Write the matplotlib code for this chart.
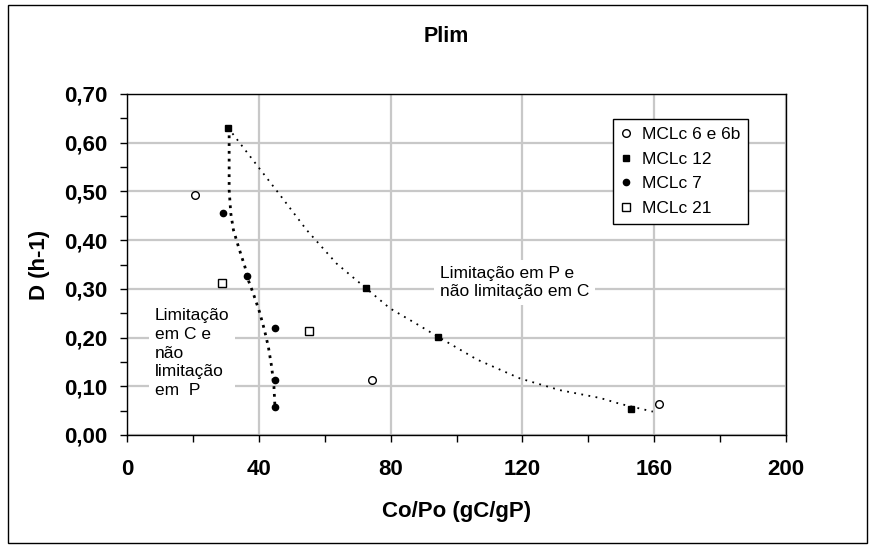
import matplotlib
matplotlib.use('Agg')
import matplotlib.pyplot as plt
from matplotlib.ticker import MultipleLocator, FuncFormatter
from matplotlib.patches import Rectangle

plt.rcParams['font.family'] = ['Liberation Sans', 'DejaVu Sans']

# data
mclc6_x = [20.6, 74.4, 161.5]
mclc6_y = [0.492, 0.113, 0.063]

mclc12_x = [30.8, 72.4, 94.3, 152.9]
mclc12_y = [0.631, 0.302, 0.202, 0.053]

mclc7_x = [29.2, 36.3, 44.9, 44.9, 44.9]
mclc7_y = [0.455, 0.327, 0.220, 0.113, 0.058]

mclc21_x = [28.9, 55.3]
mclc21_y = [0.313, 0.213]

# trend curves
trend_p_x = [32.0, 39.4, 46.4, 54.5, 63.6, 72.4, 79.8, 88.4, 94.3, 106.2,
             119.3, 131.4, 143.6, 149.6, 159.6]
trend_p_y = [0.619, 0.554, 0.493, 0.421, 0.352, 0.302, 0.260, 0.226, 0.202,
             0.155, 0.116, 0.092, 0.076, 0.064, 0.048]

trend_c_x = [31.0, 31.0, 31.0, 31.5, 32.3, 33.8, 35.8, 36.8, 38.3, 40.2,
             41.7, 42.9, 43.9, 44.6, 44.9]
trend_c_y = [0.631, 0.578, 0.503, 0.455, 0.421, 0.387, 0.345, 0.318, 0.291,
             0.253, 0.216, 0.181, 0.140, 0.099, 0.058]

W, H = 874, 548
fig = plt.figure(figsize=(W / 100, H / 100), dpi=100)
ax = fig.add_axes([127 / W, 1 - 435 / H, (786 - 127) / W, (435 - 94) / H])

# outer frame
fig.patches.append(Rectangle((8 / W, 5 / H), 859 / W, 538 / H,
                             transform=fig.transFigure, fill=False,
                             edgecolor='black', linewidth=1.0))

ax.set_xlim(0, 200)
ax.set_ylim(0, 0.70)
ax.xaxis.set_major_locator(MultipleLocator(40))
ax.xaxis.set_minor_locator(MultipleLocator(20))
ax.yaxis.set_major_locator(MultipleLocator(0.1))
ax.yaxis.set_minor_locator(MultipleLocator(0.05))
ax.yaxis.set_major_formatter(FuncFormatter(lambda v, p: f'{v:.2f}'.replace('.', ',')))
ax.grid(True, which='major', color='#c8c8c8', linewidth=1.6)
ax.set_axisbelow(True)
ax.tick_params(which='both', direction='out', length=5, width=1, color='black')
ax.tick_params(axis='y', which='major', pad=9, labelsize=16)
ax.tick_params(axis='x', which='major', pad=12, labelsize=16)
for lab in ax.get_xticklabels() + ax.get_yticklabels():
    lab.set_fontweight('bold')
for s in ax.spines.values():
    s.set_linewidth(1.0)
    s.set_color('black')

# trend curves
ax.plot(trend_p_x, trend_p_y, color='black', linestyle=(0, (1, 3)), linewidth=1.3)
ax.plot(trend_c_x, trend_c_y, color='black', linestyle=(0, (1, 1.8)), linewidth=2.0)

# series
ax.plot(mclc6_x, mclc6_y, linestyle='none', marker='o', markersize=5.5,
        markerfacecolor='white', markeredgecolor='black', markeredgewidth=1.0,
        label='MCLc 6 e 6b', zorder=4)
ax.plot(mclc12_x, mclc12_y, linestyle='none', marker='s', markersize=4.5,
        color='black', label='MCLc 12', zorder=4)
ax.plot(mclc7_x, mclc7_y, linestyle='none', marker='o', markersize=4.5,
        color='black', label='MCLc 7', zorder=4)
ax.plot(mclc21_x, mclc21_y, linestyle='none', marker='s', markersize=6,
        markerfacecolor='white', markeredgecolor='black', markeredgewidth=1.0,
        label='MCLc 21', zorder=4)

leg = ax.legend(loc='upper left', bbox_to_anchor=(613 / W, 1 - 119 / H),
                bbox_transform=fig.transFigure, fontsize=12.5, frameon=True,
                fancybox=False, edgecolor='black', framealpha=1,
                handlelength=0.6, handletextpad=0.6, labelspacing=0.55,
                borderpad=0.45, borderaxespad=0)
leg.get_frame().set_linewidth(1.0)

# annotations
ax.text(95.0, 0.313, 'Limitação em P e\nnão limitação em C', fontsize=12.5,
        ha='left', va='center', linespacing=1.3,
        bbox=dict(facecolor='white', edgecolor='none', pad=4), zorder=3)
ax.text(8.5, 0.168, 'Limitação\nem C e\nnão\nlimitação\nem  P', fontsize=12.5,
        ha='left', va='center', linespacing=1.3,
        bbox=dict(facecolor='white', edgecolor='none', pad=4), zorder=3)

fig.text(446 / W, 1 - 37 / H, 'Plim', fontsize=15.5, fontweight='bold',
         ha='center', va='center')
fig.text(457 / W, 1 - 512 / H, 'Co/Po (gC/gP)', fontsize=16, fontweight='bold',
         ha='center', va='center')
fig.text(39 / W, 1 - 265 / H, 'D (h-1)', fontsize=16, fontweight='bold',
         ha='center', va='center', rotation=90)

fig.savefig('out.png', dpi=100)
